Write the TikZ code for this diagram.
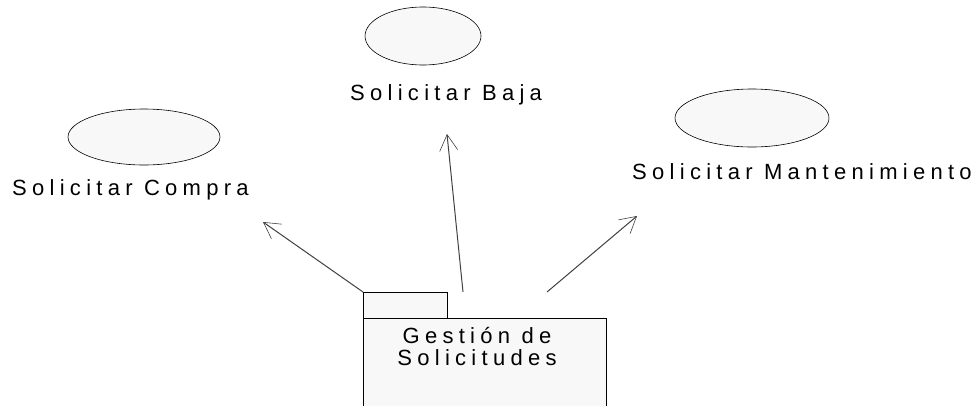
\documentclass[tikz,border=0pt]{standalone}
\usepackage{fontspec}
\setmainfont{Liberation Sans}[LetterSpace=24]
\usetikzlibrary{arrows.meta,shapes.geometric}
\definecolor{fillg}{HTML}{F8F8F8}
\tikzset{
  uc/.style={ellipse,draw=black,fill=fillg,line width=0.6pt,inner sep=0pt},
  lbl/.style={font=\fontsize{22}{22}\selectfont,inner sep=0pt},
  dep/.style={draw=black!75,line width=1pt,-{Straight Barb[length=16pt,width=18pt,line width=0.6pt]}},
  pkg/.style={draw=black,fill=fillg,line width=0.6pt}
}
\begin{document}
\begin{tikzpicture}[x=1pt,y=-1pt]
\useasboundingbox (0,0) rectangle (971,405);
% use cases
\node[uc,minimum width=152pt,minimum height=56pt] (compra) at (144,137) {};
\node[lbl,anchor=base west] (tcompra) at (12,195) {Solicitar Compra};
\node[uc,minimum width=116pt,minimum height=58pt] (baja) at (423,36) {};
\node[lbl,anchor=base west] (tbaja) at (350,100) {Solicitar Baja};
\node[uc,minimum width=154pt,minimum height=58pt] (mant) at (752,118) {};
\node[lbl,anchor=base west] (tmant) at (632,179) {Solicitar Mantenimiento};
% package
\path[pkg] (363,292) rectangle (447,318);
\path[pkg] (363,318) rectangle (606,410);
\node[inner sep=0pt] (tab) at (405,305) {};
\node[lbl,align=center,anchor=base] (gest) at (477,365) {Gestión de\\Solicitudes};
% connector ends
\coordinate (s1) at (363,292);
\coordinate (e1) at (263,222);
\coordinate (s2) at (463,292);
\coordinate (e2) at (447,134);
\coordinate (s3) at (547,292);
\coordinate (e3) at (637,216);
\draw[dep] (s1) -- (e1);
\draw[dep] (s2) -- (e2);
\draw[dep] (s3) -- (e3);
\end{tikzpicture}
\end{document}
